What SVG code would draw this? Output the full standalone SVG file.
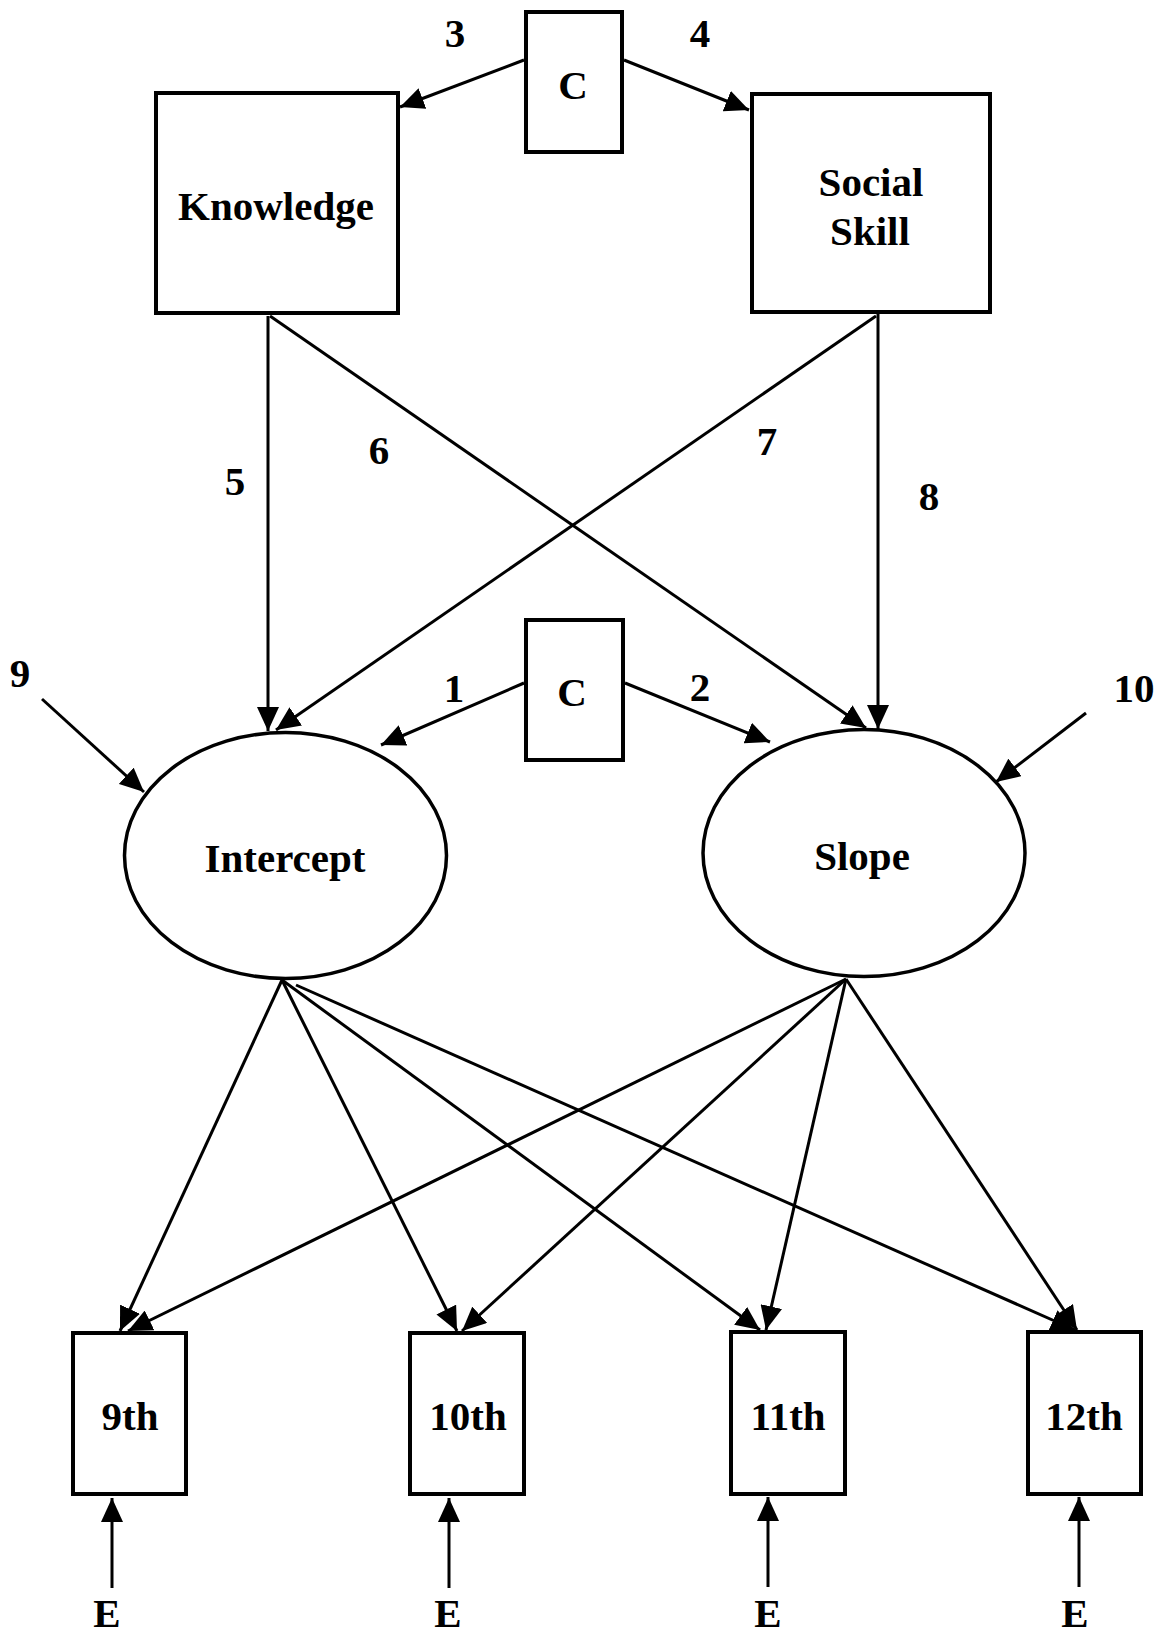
<svg xmlns="http://www.w3.org/2000/svg" width="1159" height="1633" viewBox="0 0 1159 1633">
  <style>
    .box { fill: #ffffff; stroke: #000000; stroke-width: 4; }
    .oval { fill: #ffffff; stroke: #000000; stroke-width: 3.5; }
    .lbl { font-family: "Liberation Serif", "Times New Roman", serif; font-weight: bold; font-size: 41px; fill: #000000; text-anchor: middle; }
    .edge { stroke: #000000; stroke-width: 3; fill: none; marker-end: url(#head); }
  </style>
  <defs>
    <marker id="head" markerUnits="userSpaceOnUse" markerWidth="26" markerHeight="22" refX="24" refY="11" orient="auto">
      <path d="M0,0 L24,11 L0,22 z" fill="#000000"/>
    </marker>
  </defs>
  <rect width="1159" height="1633" fill="#ffffff"/>

  <!-- connectors -->
  <g id="connectors">
    <line class="edge" x1="524" y1="60" x2="400" y2="107"/>
    <line class="edge" x1="624" y1="60" x2="749" y2="110"/>
    <line class="edge" x1="268" y1="316" x2="268" y2="731"/>
    <line class="edge" x1="270" y1="316" x2="866" y2="728"/>
    <line class="edge" x1="876" y1="316" x2="276" y2="730"/>
    <line class="edge" x1="878" y1="314" x2="878" y2="729"/>
    <line class="edge" x1="524" y1="683" x2="381" y2="745"/>
    <line class="edge" x1="625" y1="683" x2="770" y2="742"/>
    <line class="edge" x1="42" y1="699" x2="144" y2="792"/>
    <line class="edge" x1="1086" y1="713" x2="996" y2="782"/>
    <!-- intercept loadings -->
    <line class="edge" x1="282" y1="980" x2="120" y2="1331"/>
    <line class="edge" x1="282" y1="980" x2="457" y2="1331"/>
    <line class="edge" x1="282" y1="980" x2="760" y2="1330"/>
    <line class="edge" x1="296" y1="985" x2="1075" y2="1330"/>
    <!-- slope loadings -->
    <line class="edge" x1="846" y1="979" x2="128" y2="1331"/>
    <line class="edge" x1="846" y1="979" x2="462" y2="1331"/>
    <line class="edge" x1="846" y1="979" x2="766" y2="1330"/>
    <line class="edge" x1="846" y1="979" x2="1077" y2="1330"/>
    <!-- residuals -->
    <line class="edge" x1="112" y1="1588" x2="112" y2="1498"/>
    <line class="edge" x1="449" y1="1588" x2="449" y2="1498"/>
    <line class="edge" x1="768" y1="1587" x2="768" y2="1497"/>
    <line class="edge" x1="1079" y1="1587" x2="1079" y2="1497"/>
  </g>

  <!-- path labels -->
  <g id="path-labels" class="lbl">
    <text x="455" y="47">3</text>
    <text x="700" y="47">4</text>
    <text x="235" y="495">5</text>
    <text x="379" y="464">6</text>
    <text x="767" y="455">7</text>
    <text x="929" y="510">8</text>
    <text x="20" y="687">9</text>
    <text x="1134" y="702">10</text>
    <text x="454" y="702">1</text>
    <text x="700" y="701">2</text>
  </g>

  <g id="covariate-top">
    <rect class="box" x="526" y="12" width="96" height="140"/>
    <text class="lbl" x="573" y="99">C</text>
  </g>
  <g id="knowledge">
    <rect class="box" x="156" y="93" width="242" height="220"/>
    <text class="lbl" x="276" y="220">Knowledge</text>
  </g>
  <g id="social-skill">
    <rect class="box" x="752" y="94" width="238" height="218"/>
    <text class="lbl" x="871" y="196">Social</text>
    <text class="lbl" x="870" y="245">Skill</text>
  </g>
  <g id="covariate-mid">
    <rect class="box" x="526" y="620" width="97" height="140"/>
    <text class="lbl" x="572" y="706">C</text>
  </g>
  <g id="intercept">
    <ellipse class="oval" cx="285.5" cy="855.5" rx="161" ry="123"/>
    <text class="lbl" x="285" y="872">Intercept</text>
  </g>
  <g id="slope">
    <ellipse class="oval" cx="864" cy="853" rx="161" ry="123.5"/>
    <text class="lbl" x="862" y="870">Slope</text>
  </g>
  <g id="grade9">
    <rect class="box" x="73" y="1333" width="113" height="161"/>
    <text class="lbl" x="130" y="1430">9th</text>
  </g>
  <g id="grade10">
    <rect class="box" x="410" y="1333" width="114" height="161"/>
    <text class="lbl" x="468" y="1430">10th</text>
  </g>
  <g id="grade11">
    <rect class="box" x="731" y="1332" width="114" height="162"/>
    <text class="lbl" x="788" y="1430">11th</text>
  </g>
  <g id="grade12">
    <rect class="box" x="1028" y="1332" width="113" height="162"/>
    <text class="lbl" x="1084" y="1430">12th</text>
  </g>
  <g id="errors" class="lbl">
    <text x="107" y="1627">E</text>
    <text x="448" y="1627">E</text>
    <text x="768" y="1627">E</text>
    <text x="1075" y="1627">E</text>
  </g>
</svg>
